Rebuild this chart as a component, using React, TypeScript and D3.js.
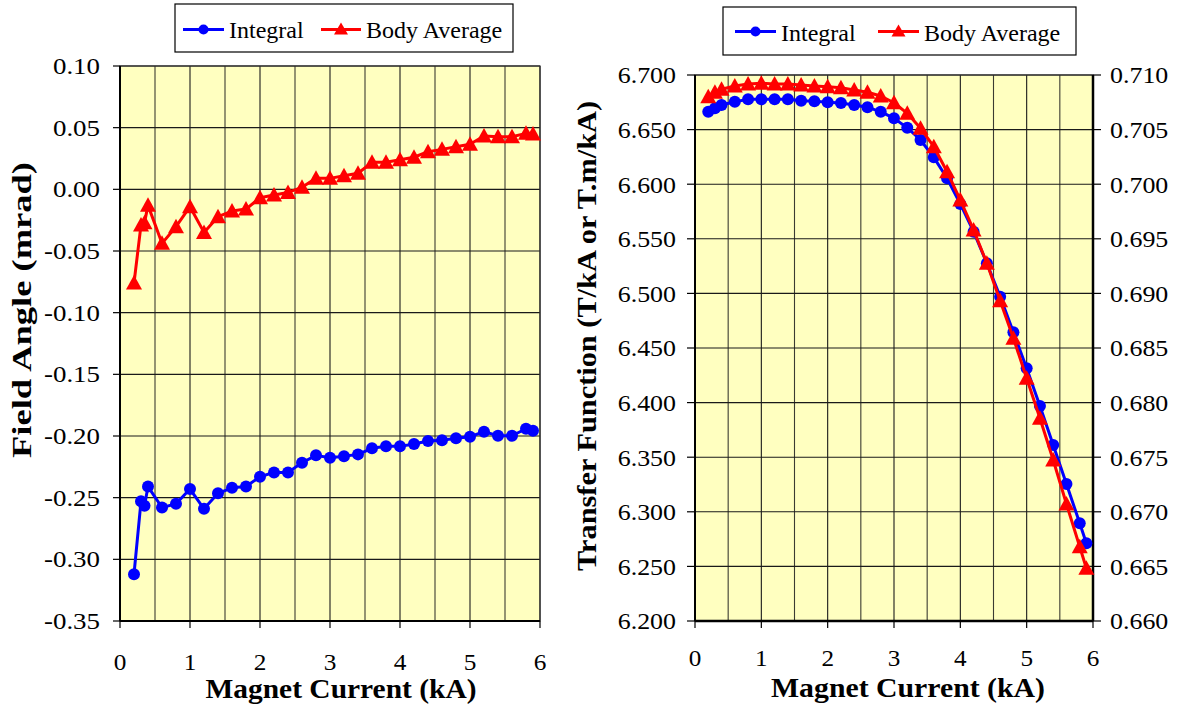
import React from "react";
import * as d3 from "d3";

// ---------- data ----------
const leftCurrent = [0.2, 0.3, 0.35, 0.4, 0.6, 0.8, 1.0, 1.2, 1.4, 1.6, 1.8, 2.0, 2.2, 2.4, 2.6, 2.8, 3.0, 3.2, 3.4, 3.6, 3.8, 4.0, 4.2, 4.4, 4.6, 4.8, 5.0, 5.2, 5.4, 5.6, 5.8, 5.9];
const leftIntegral = [-0.312, -0.253, -0.2566, -0.241, -0.258, -0.255, -0.243, -0.259, -0.2465, -0.242, -0.241, -0.233, -0.2295, -0.2295, -0.2217, -0.2157, -0.2176, -0.2165, -0.2149, -0.210, -0.2084, -0.2084, -0.2065, -0.204, -0.2035, -0.2019, -0.2006, -0.1965, -0.1998, -0.1998, -0.1941, -0.1957];
const leftBody = [-0.076, -0.029, -0.027, -0.013, -0.0438, -0.0303, -0.0141, -0.0349, -0.0222, -0.0176, -0.016, -0.0068, -0.0046, -0.0025, 0.0016, 0.0089, 0.0089, 0.011, 0.013, 0.0219, 0.0219, 0.024, 0.026, 0.0305, 0.0324, 0.0345, 0.0365, 0.0432, 0.0427, 0.0427, 0.0454, 0.0448];

const rightCurrent = [0.2, 0.3, 0.4, 0.6, 0.8, 1.0, 1.2, 1.4, 1.6, 1.8, 2.0, 2.2, 2.4, 2.6, 2.8, 3.0, 3.2, 3.4, 3.6, 3.8, 4.0, 4.2, 4.4, 4.6, 4.8, 5.0, 5.2, 5.4, 5.6, 5.8, 5.9];
const rightIntegral = [6.6664, 6.6695, 6.6725, 6.6755, 6.6777, 6.6777, 6.6777, 6.6777, 6.6765, 6.6759, 6.675, 6.6744, 6.6725, 6.6704, 6.6664, 6.6603, 6.6517, 6.6405, 6.6246, 6.6054, 6.5819, 6.5565, 6.5276, 6.497, 6.4644, 6.4314, 6.3969, 6.3612, 6.3255, 6.2895, 6.2712];
const rightBody = [0.70801, 0.70842, 0.70869, 0.70899, 0.70918, 0.70924, 0.70918, 0.70918, 0.70908, 0.70899, 0.70893, 0.70884, 0.70863, 0.70842, 0.70808, 0.70746, 0.70649, 0.70512, 0.70343, 0.70114, 0.69855, 0.69581, 0.69276, 0.68933, 0.68589, 0.68223, 0.67857, 0.67474, 0.67071, 0.6668, 0.66483];

const xTickValues = [0, 1, 2, 3, 4, 5, 6];
const xTickLabels = ["0", "1", "2", "3", "4", "5", "6"];
const xGridValues = [0, 0.5, 1, 1.5, 2, 2.5, 3, 3.5, 4, 4.5, 5, 5.5, 6];

const leftYTickValues = [0.10, 0.05, 0.0, -0.05, -0.10, -0.15, -0.20, -0.25, -0.30, -0.35];
const leftYTickLabels = ["0.10", "0.05", "0.00", "-0.05", "-0.10", "-0.15", "-0.20", "-0.25", "-0.30", "-0.35"];

const rightY1TickValues = [6.7, 6.65, 6.6, 6.55, 6.5, 6.45, 6.4, 6.35, 6.3, 6.25, 6.2];
const rightY1TickLabels = ["6.700", "6.650", "6.600", "6.550", "6.500", "6.450", "6.400", "6.350", "6.300", "6.250", "6.200"];
const rightY2TickValues = [0.71, 0.705, 0.7, 0.695, 0.69, 0.685, 0.68, 0.675, 0.67, 0.665, 0.66];
const rightY2TickLabels = ["0.710", "0.705", "0.700", "0.695", "0.690", "0.685", "0.680", "0.675", "0.670", "0.665", "0.660"];

const seriesNames = ["Integral", "Body Average"];

// ---------- styles ----------
const FONT = "'Liberation Serif', 'Times New Roman', serif";
const BLUE = "#0000FF";
const RED = "#FF0000";
const BG = "#FFFFC0";

const triPath = (hw: number, top: number, bottom: number) =>
  `M0,${-top}L${hw},${bottom}L${-hw},${bottom}Z`;

function Label({ x, y, anchor, size, sx, children, middle }: any) {
  return (
    <text
      transform={`translate(${x},${y}) scale(${sx},1)`}
      dy={middle ? "0.35em" : undefined}
      textAnchor={anchor}
      fontFamily={FONT}
      fontSize={size}
      fill="#000"
    >
      {children}
    </text>
  );
}

function Legend({ x, y, w, h, lineY, intX0, intX1, bodyX0, bodyX1, textBase }: any) {
  const intC = (intX0 + intX1) / 2;
  const bodyC = (bodyX0 + bodyX1) / 2;
  return (
    <g>
      <rect x={x} y={y} width={w} height={h} fill="#fff" stroke="#000" strokeWidth={1.2} />
      <line x1={intX0} x2={intX1} y1={lineY} y2={lineY} stroke={BLUE} strokeWidth={3} />
      <circle cx={intC} cy={lineY} r={5} fill={BLUE} />
      <text x={intX1 + 5} y={textBase} fontFamily={FONT} fontSize={24} fill="#000">{seriesNames[0]}</text>
      <line x1={bodyX0} x2={bodyX1} y1={lineY} y2={lineY} stroke={RED} strokeWidth={3} />
      <path d={triPath(7, 7, 5)} transform={`translate(${bodyC},${lineY})`} fill={RED} />
      <text x={bodyX1 + 5} y={textBase} fontFamily={FONT} fontSize={24} fill="#000">{seriesNames[1]}</text>
    </g>
  );
}

function Series({ xs, ys, x, y, color, marker }: any) {
  const line = d3.line<number>().x((_, i) => x(xs[i])).y((d) => y(d));
  return (
    <g>
      <path d={line(ys) || ""} fill="none" stroke={color} strokeWidth={3} strokeLinejoin="round" />
      {ys.map((v: number, i: number) =>
        marker === "circle" ? (
          <circle key={i} cx={x(xs[i])} cy={y(v)} r={6} fill={color} />
        ) : (
          <path key={i} d={triPath(8, 8, 6.5)} transform={`translate(${x(xs[i])},${y(v)})`} fill={color} />
        )
      )}
    </g>
  );
}

function Frame({ x, y, gridY }: any) {
  const [x0, x1] = x.range();
  const [y0, y1] = y.range();
  return (
    <g>
      <rect x={x0} y={y1} width={x1 - x0} height={y0 - y1} fill={BG} />
      {xGridValues.map((v, i) => (
        <line key={"gx" + i} x1={x(v)} x2={x(v)} y1={y1} y2={y0} stroke="#1a1a1a" strokeWidth={1.1} opacity={i % 2 ? 0.85 : 1} />
      ))}
      {gridY.map((v: number, i: number) => (
        <line key={"gy" + i} x1={x0} x2={x1} y1={y(v)} y2={y(v)} stroke="#1a1a1a" strokeWidth={1.1} />
      ))}
      <rect x={x0} y={y1} width={x1 - x0} height={y0 - y1} fill="none" stroke="#333" strokeWidth={1.2} />
    </g>
  );
}

export default function App() {
  const xL = d3.scaleLinear().domain([0, 6]).range([120, 540]);
  const yL = d3.scaleLinear().domain([-0.35, 0.1]).range([621, 66]);
  const xR = d3.scaleLinear().domain([0, 6]).range([695, 1093]);
  const yR1 = d3.scaleLinear().domain([6.2, 6.7]).range([621, 75]);
  const yR2 = d3.scaleLinear().domain([0.66, 0.71]).range([621, 75]);

  return (
    <svg width={1183} height={709} style={{ position: "absolute", left: 0, top: 0, background: "#fff" }}>
      {/* ---------- LEFT CHART ---------- */}
      <Frame x={xL} y={yL} gridY={leftYTickValues} />
      <line x1={120} x2={120} y1={66} y2={621} stroke="#000" strokeWidth={2} />
      <line x1={120} x2={540} y1={621} y2={621} stroke="#000" strokeWidth={2} />
      {leftYTickValues.map((v, i) => (
        <g key={"lyt" + i}>
          <line x1={113} x2={120} y1={yL(v)} y2={yL(v)} stroke="#000" strokeWidth={1.2} />
          <Label x={100} y={yL(v)} anchor="end" size={23} sx={1.17} middle>{leftYTickLabels[i]}</Label>
        </g>
      ))}
      {xTickValues.map((v, i) => (
        <g key={"lxt" + i}>
          <line x1={xL(v)} x2={xL(v)} y1={621} y2={628} stroke="#000" strokeWidth={1.2} />
          <Label x={xL(v)} y={670} anchor="middle" size={23} sx={1.1}>{xTickLabels[i]}</Label>
        </g>
      ))}
      <text x={341} y={698} textAnchor="middle" fontFamily={FONT} fontSize={28} fontWeight="bold" textLength={271} lengthAdjust="spacingAndGlyphs">Magnet Current (kA)</text>
      <text transform="translate(31,310) rotate(-90)" textAnchor="middle" fontFamily={FONT} fontSize={28} fontWeight="bold" textLength={296} lengthAdjust="spacingAndGlyphs">Field Angle (mrad)</text>
      <Series xs={leftCurrent} ys={leftIntegral} x={xL} y={yL} color={BLUE} marker="circle" />
      <Series xs={leftCurrent} ys={leftBody} x={xL} y={yL} color={RED} marker="triangle" />
      <Legend x={175} y={4} w={338} h={48} lineY={29.5} intX0={183} intX1={224} bodyX0={321} bodyX1={361} textBase={37.5} />

      {/* ---------- RIGHT CHART ---------- */}
      <Frame x={xR} y={yR1} gridY={rightY1TickValues} />
      <line x1={695} x2={695} y1={75} y2={621} stroke="#000" strokeWidth={2} />
      <line x1={1093} x2={1093} y1={75} y2={621} stroke="#000" strokeWidth={2.5} />
      <line x1={695} x2={1093} y1={621} y2={621} stroke="#000" strokeWidth={2.5} />
      {rightY1TickValues.map((v, i) => (
        <g key={"ry1" + i}>
          <line x1={687} x2={695} y1={yR1(v)} y2={yR1(v)} stroke="#000" strokeWidth={1.2} />
          <Label x={676} y={yR1(v)} anchor="end" size={24} sx={1.08} middle>{rightY1TickLabels[i]}</Label>
        </g>
      ))}
      {rightY2TickValues.map((v, i) => (
        <g key={"ry2" + i}>
          <line x1={1093} x2={1101} y1={yR2(v)} y2={yR2(v)} stroke="#000" strokeWidth={1.2} />
          <Label x={1110} y={yR2(v)} anchor="start" size={24} sx={1.08} middle>{rightY2TickLabels[i]}</Label>
        </g>
      ))}
      {xTickValues.map((v, i) => (
        <g key={"rxt" + i}>
          <line x1={xR(v)} x2={xR(v)} y1={621} y2={628} stroke="#000" strokeWidth={1.2} />
          <Label x={xR(v)} y={666} anchor="middle" size={24} sx={1.05}>{xTickLabels[i]}</Label>
        </g>
      ))}
      <text x={908} y={697} textAnchor="middle" fontFamily={FONT} fontSize={28} fontWeight="bold" textLength={274} lengthAdjust="spacingAndGlyphs">Magnet Current (kA)</text>
      <text transform="translate(596,336) rotate(-90)" textAnchor="middle" fontFamily={FONT} fontSize={28} fontWeight="bold" textLength={470} lengthAdjust="spacingAndGlyphs">Transfer Function (T/kA or T.m/kA)</text>
      <Series xs={rightCurrent} ys={rightIntegral} x={xR} y={yR1} color={BLUE} marker="circle" />
      <Series xs={rightCurrent} ys={rightBody} x={xR} y={yR2} color={RED} marker="triangle" />
      <Legend x={723} y={7} w={353} h={48} lineY={31.5} intX0={735} intX1={776} bodyX0={878} bodyX1={919} textBase={40.5} />
    </svg>
  );
}
